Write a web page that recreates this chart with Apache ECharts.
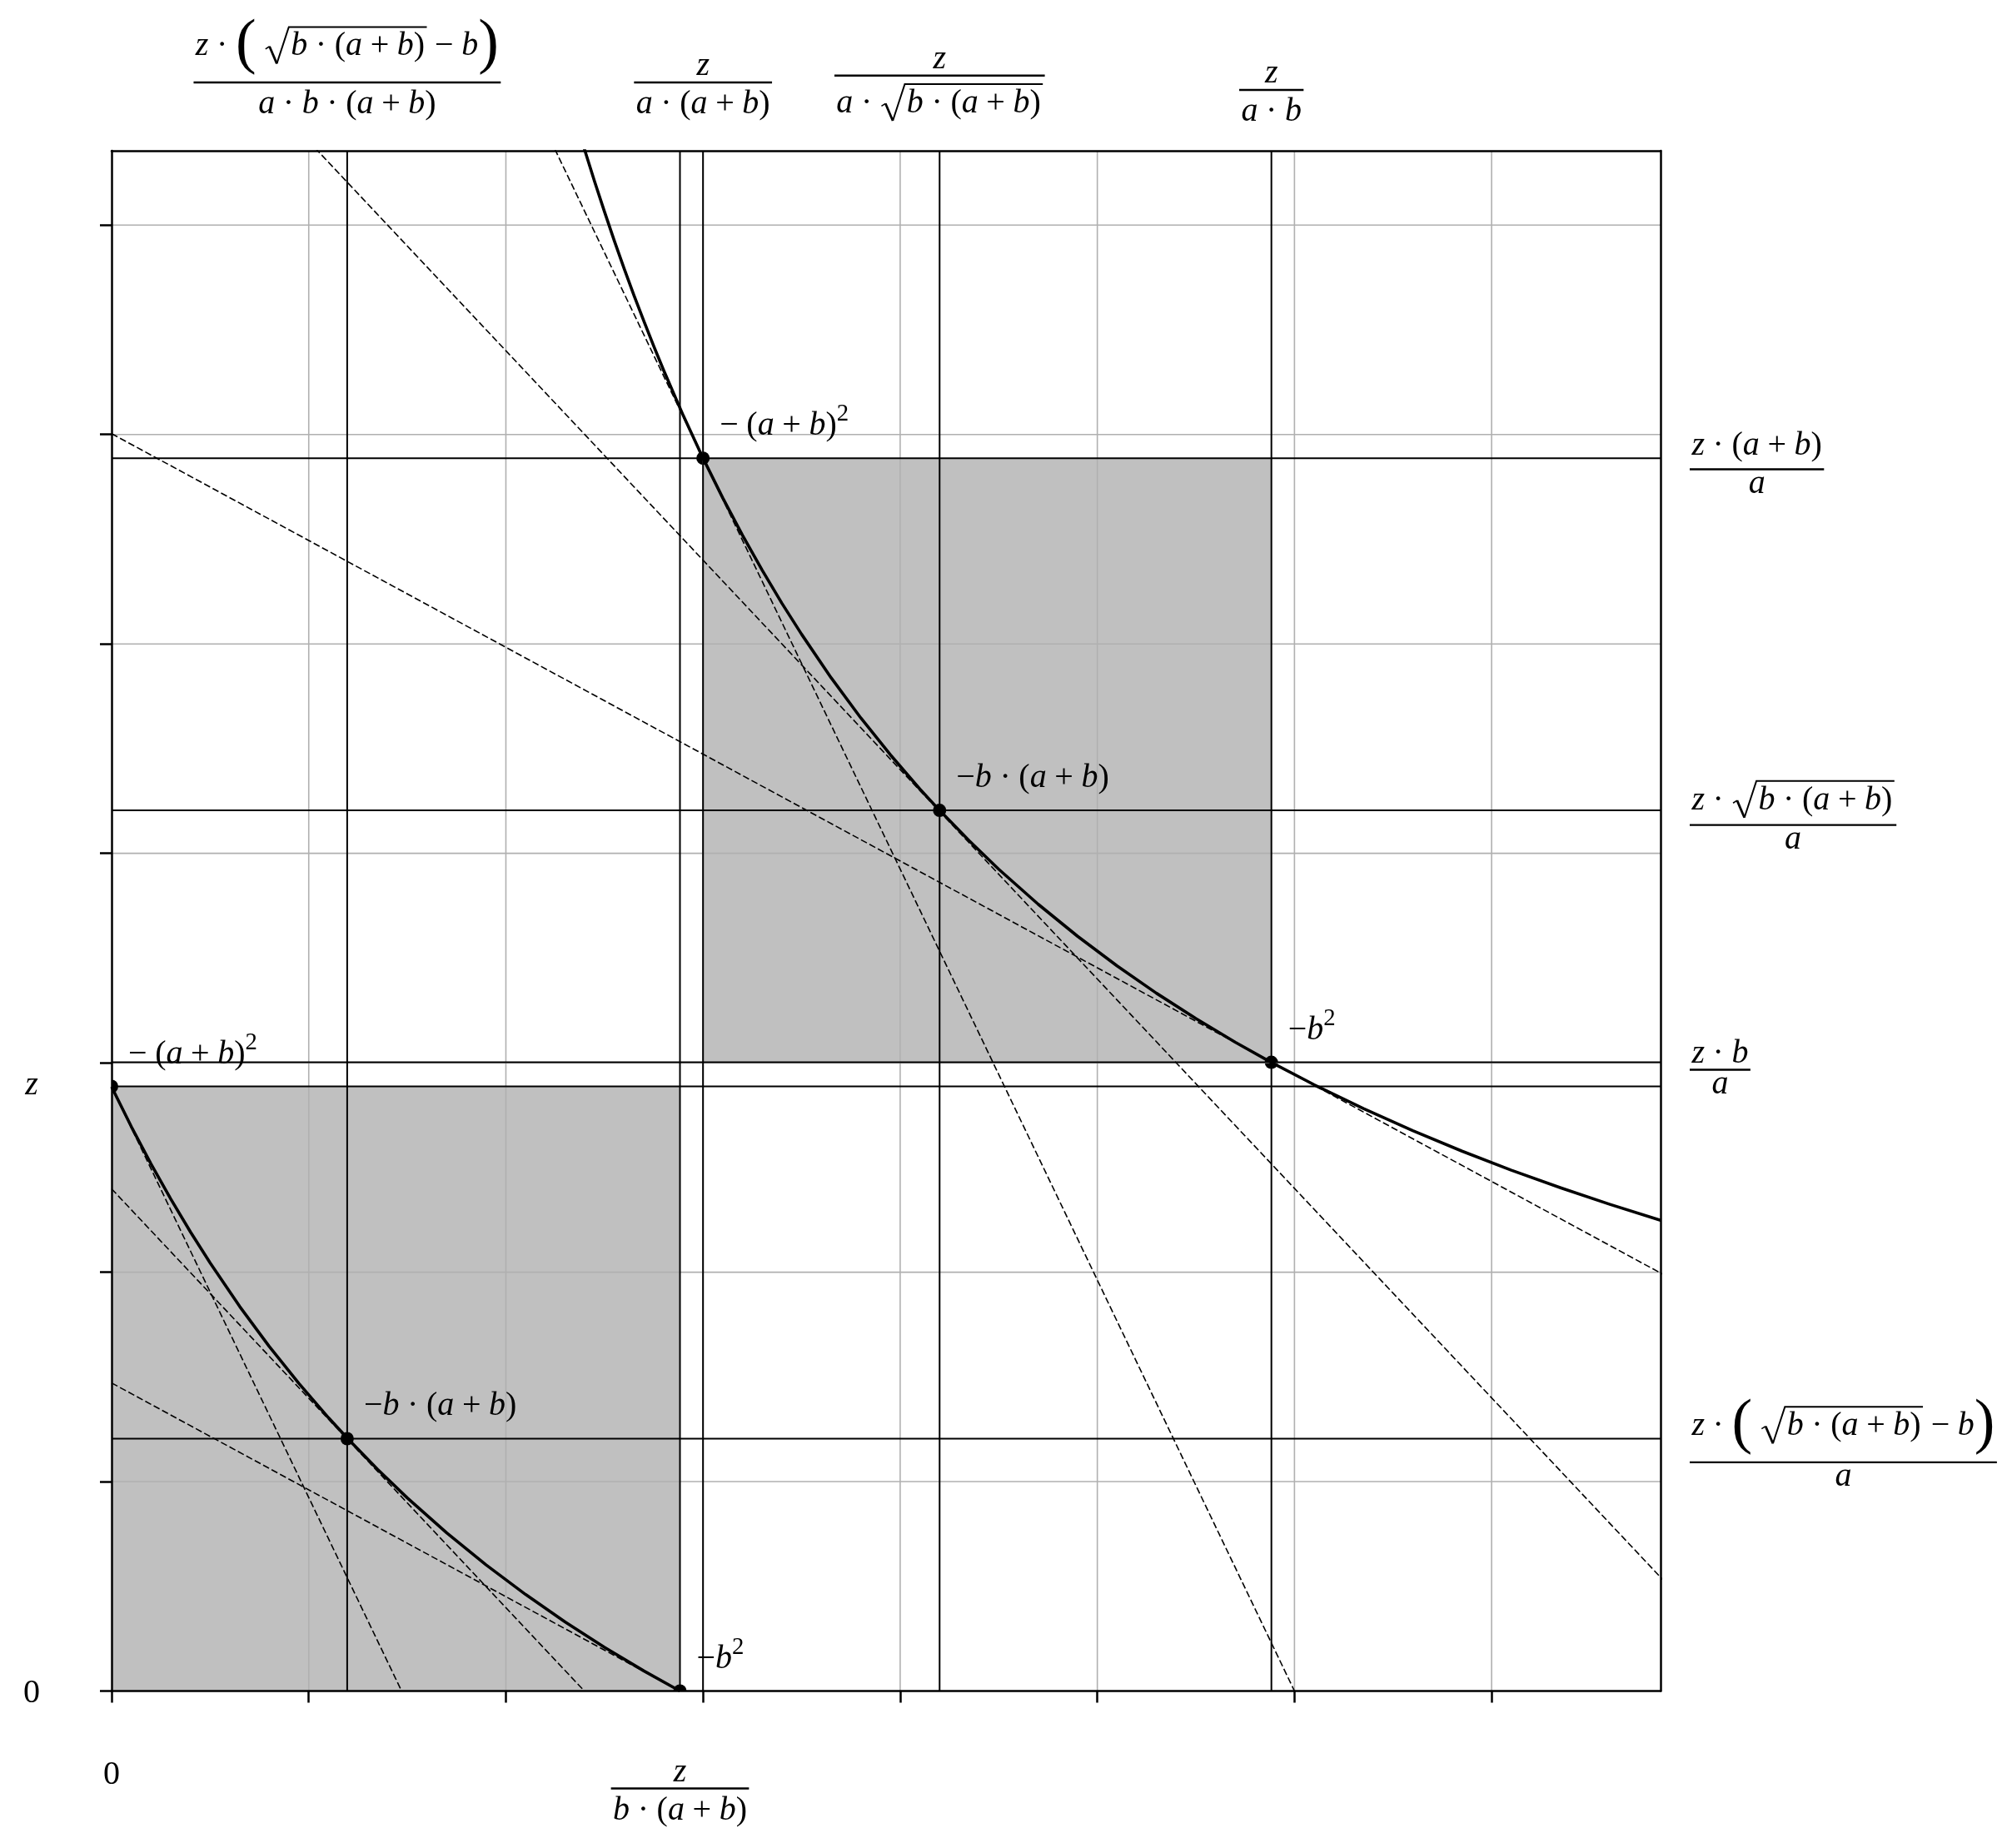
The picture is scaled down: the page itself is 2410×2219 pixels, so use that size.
<!DOCTYPE html>
<html><head><meta charset="utf-8">
<script src="https://cdn.jsdelivr.net/npm/echarts@6/dist/echarts.min.js"></script>
<style>html,body{margin:0;padding:0;background:#fff}#c{width:2410px;height:2219px}</style>
</head><body><div id="c"></div>
<script>
// ---------------- data ----------------
const X_MAX = 7.857;
const Y_MAX = 7.355;
const TICKS = [0, 1, 2, 3, 4, 5, 6, 7];
const GRID_X = [1, 2, 3, 4, 5, 6, 7];
const GRID_Y = [1, 2, 3, 4, 5, 6, 7];
const VLINES = [1.195, 2.883, 3.0, 4.2, 5.883];
const HLINES = [1.205, 2.887, 3.002, 4.205, 5.887];
const RECTS = [[3.0, 3.002, 5.883, 5.887], [0, 0, 2.883, 2.887]];
const UPPER_CURVE = [[2.30,7.678],[2.35,7.515],[2.40,7.358],[2.45,7.208],[2.50,7.064],[2.55,6.925],[2.60,6.792],[2.65,6.664],[2.70,6.541],[2.75,6.422],[2.80,6.307],[2.90,6.090],[3.00,5.887],[3.10,5.697],[3.20,5.519],[3.30,5.352],[3.40,5.194],[3.50,5.046],[3.65,4.838],[3.80,4.647],[3.95,4.471],[4.10,4.307],[4.20,4.205],[4.35,4.060],[4.50,3.924],[4.70,3.757],[4.90,3.604],[5.10,3.463],[5.30,3.332],[5.50,3.211],[5.70,3.098],[5.88,3.003],[6.10,2.895],[6.35,2.781],[6.60,2.676],[6.85,2.578],[7.10,2.487],[7.35,2.403],[7.60,2.324],[7.86,2.247]];
const LOWER_CURVE = [[0,2.885],[0.10,2.695],[0.20,2.517],[0.30,2.350],[0.40,2.192],[0.50,2.044],[0.65,1.836],[0.80,1.645],[0.95,1.469],[1.10,1.305],[1.20,1.203],[1.35,1.058],[1.50,0.922],[1.70,0.755],[1.90,0.602],[2.10,0.461],[2.30,0.330],[2.50,0.209],[2.70,0.096],[2.883,0]];
const TANGENTS_UPPER = [[[0,11.775],[6.0,0]], [[0,8.4],[8.4,0]], [[0,6.004],[11.77,0]]];
const TANGENTS_LOWER = [[[0,2.886],[1.471,0]], [[0,2.398],[2.398,0]], [[0,1.471],[2.883,0]]];
const POINTS = [[3.0,5.887],[4.2,4.205],[5.883,3.002],[0,2.887],[1.195,1.205],[2.883,0]];
const POINT_LABELS = ['− (a+b)^2', '−b·(a+b)', '−b^2', '− (a+b)^2', '−b·(a+b)', '−b^2'];
const TOP_LABELS = [
  {x: 1.195, num: 'z·[ √{b·(a+b)}−b]', den: 'a·b·(a+b)'},
  {x: 3.0, num: 'z', den: 'a·(a+b)'},
  {x: 4.2, num: 'z', den: 'a·√{b·(a+b)}'},
  {x: 5.883, num: 'z', den: 'a·b'}
];
const RIGHT_LABELS = [
  {y: 5.887, num: 'z·(a+b)', den: 'a'},
  {y: 4.205, num: 'z·√{b·(a+b)}', den: 'a'},
  {y: 3.002, num: 'z·b', den: 'a'},
  {y: 1.205, num: 'z·[ √{b·(a+b)}−b]', den: 'a'}
];
const BOTTOM_LABELS = [{x: 0, text: '0'}, {x: 2.883, num: 'z', den: 'b·(a+b)'}];
const LEFT_LABELS = [{y: 0, text: '0'}, {y: 2.887, text: 'z'}];

// ---------------- chart ----------------
const chart = echarts.init(document.getElementById('c'), null, {renderer: 'canvas'});

function seg(data, color, width, type) {
  return {type: 'line', data: data, symbol: 'none', silent: true, clip: true,
    lineStyle: {color: color, width: width, type: type || 'solid', join: 'round'}};
}
const series = [];
series.push({
  type: 'custom', clip: true, silent: true, data: RECTS,
  dimensions: ['x1', 'y1', 'x2', 'y2'], encode: {x: ['x1', 'x2'], y: ['y1', 'y2']},
  renderItem: function (p, api) {
    const a = api.coord([api.value(0), api.value(1)]);
    const b = api.coord([api.value(2), api.value(3)]);
    return {type: 'rect', shape: {x: Math.min(a[0], b[0]), y: Math.min(a[1], b[1]),
      width: Math.abs(b[0] - a[0]), height: Math.abs(b[1] - a[1])}, style: {fill: '#c0c0c0'}};
  }
});
GRID_X.forEach(x => series.push(seg([[x, 0], [x, Y_MAX]], '#b0b0b0', 1.6)));
GRID_Y.forEach(y => series.push(seg([[0, y], [X_MAX, y]], '#b0b0b0', 1.6)));
VLINES.forEach(x => series.push(seg([[x, 0], [x, Y_MAX]], '#000', 2)));
HLINES.forEach(y => series.push(seg([[0, y], [X_MAX, y]], '#000', 2)));
TANGENTS_UPPER.concat(TANGENTS_LOWER).forEach(l => series.push(seg(l, '#000', 1.6, [8, 3.5])));
[UPPER_CURVE, LOWER_CURVE].forEach(c => series.push(seg(c, '#000', 3.6)));
series.push({
  type: 'custom', clip: true, silent: true, data: POINTS,
  renderItem: function (p, api) {
    const c = api.coord([api.value(0), api.value(1)]);
    return {type: 'circle', shape: {cx: c[0], cy: c[1], r: 8}, style: {fill: '#000'}};
  }
});

const axisBase = {type: 'value', min: 0, z: 10, axisLabel: {show: false}, splitLine: {show: false},
  axisLine: {show: true, onZero: false, lineStyle: {color: '#000', width: 2.5}}};
const tickStyle = {show: true, inside: false, length: 14, lineStyle: {color: '#000', width: 2.5}, customValues: TICKS};

chart.setOption({
  animation: false,
  backgroundColor: '#fff',
  grid: {left: 134, right: 416, top: 181, bottom: 188.5},
  xAxis: [
    Object.assign({}, axisBase, {max: X_MAX, interval: 1, position: 'bottom', axisTick: tickStyle}),
    Object.assign({}, axisBase, {max: X_MAX, interval: 1, position: 'top', axisTick: {show: false}})
  ],
  yAxis: [
    Object.assign({}, axisBase, {max: Y_MAX, interval: 1, position: 'left', axisTick: tickStyle}),
    Object.assign({}, axisBase, {max: Y_MAX, interval: 1, position: 'right', axisTick: {show: false}})
  ],
  series: series
});

// ---------------- tiny math-text layout ----------------
const S = 40;
const OPS = 0.24;
const cv = document.createElement('canvas').getContext('2d');
function fnt(it, s) { return (it ? 'italic ' : '') + s.toFixed(2) + 'px "Liberation Serif"'; }
function metrics(str, it, s) {
  cv.font = fnt(it, s); cv.textBaseline = 'alphabetic';
  const m = cv.measureText(str);
  cv.textBaseline = 'middle';
  const mm = cv.measureText('H');
  cv.textBaseline = 'alphabetic';
  return {w: m.width, a: m.actualBoundingBoxAscent, d: m.actualBoundingBoxDescent, off: mm.actualBoundingBoxDescent};
}
function tok(str, it, s, dy) {
  dy = dy || 0; const m = metrics(str, it, s);
  return {w: m.w, asc: m.a + dy, desc: m.d - dy, draw: function (x, yb, out) {
    out.push({type: 'text', z: 50, silent: true, style: {text: str, x: x, y: yb - dy - m.off, font: fnt(it, s),
      fill: '#000', align: 'left', verticalAlign: 'middle', textAlign: 'left', textVerticalAlign: 'middle'}});
  }};
}
function gap(w) { return {w: w, asc: 0, desc: 0, draw: function () {}}; }
function hbox(items) {
  let w = 0, asc = 0, desc = 0;
  items.forEach(b => { w += b.w; asc = Math.max(asc, b.asc); desc = Math.max(desc, b.desc); });
  return {w: w, asc: asc, desc: desc, draw: function (x, yb, out) {
    let cx = x; items.forEach(b => { b.draw(cx, yb, out); cx += b.w; });
  }};
}
function bigParen(ch, s) {
  const s2 = 1.85 * s; const m = metrics(ch, false, s2);
  const center = (m.a - m.d) / 2;
  return tok(ch, false, s2, 0.25 * s - center);
}
function supTok(ch, s) { return tok(ch, false, 0.72 * s, 0.42 * s); }
function poly(pts, lw) {
  return {type: 'polyline', z: 50, silent: true, shape: {points: pts},
    style: {stroke: '#000', lineWidth: lw, fill: null, lineJoin: 'miter', lineCap: 'butt'}};
}
function sqrtBox(c, s) {
  const g = 0.12 * s, th = 2.2, signW = 0.8 * s, extra = 0.06 * s;
  const botD = Math.max(c.desc, 0.22 * s) + 0.03 * s;
  return {w: signW + c.w + extra, asc: c.asc + g + th, desc: botD, draw: function (x, yb, out) {
    const yTop = yb - c.asc - g, yBot = yb + botD, h = yBot - yTop;
    const p0 = [x + 0.04 * s, yTop + 0.60 * h], p1 = [x + 0.16 * s, yTop + 0.53 * h],
      p2 = [x + 0.38 * s, yBot], p3 = [x + 0.74 * s, yTop], p4 = [x + signW + c.w + extra, yTop];
    out.push(poly([p0, p1], 1.6), poly([p1, p2], 2.8), poly([p2, p3, p4], 2.0));
    c.draw(x + signW, yb, out);
  }};
}
function fracBox(num, den, s) {
  const pad = 0.06 * s, gN = 0.22 * s, gD = 0.2 * s, th = 2.4, ax = 0.25 * s;
  const w = Math.max(num.w, den.w) + 2 * pad;
  return {w: w, asc: ax + gN + num.desc + num.asc, desc: -ax + gD + den.asc + den.desc, ax: ax,
    draw: function (x, yb, out) {
      const by = yb - ax;
      out.push({type: 'rect', z: 50, silent: true, shape: {x: x, y: by - th / 2, width: w, height: th}, style: {fill: '#000'}});
      num.draw(x + (w - num.w) / 2, by - gN - num.desc, out);
      den.draw(x + (w - den.w) / 2, by + gD + den.asc, out);
    }};
}
function parse(str, s) {
  let i = 0;
  function grp() {
    const items = [];
    while (i < str.length) {
      const c = str[i++];
      if (c === '}') break;
      if (c === '√') { i++; items.push(sqrtBox(grp(), s)); }
      else if (c === '^') { items.push(supTok(str[i++], s)); }
      else if (c === '[') { items.push(bigParen('(', s)); }
      else if (c === ']') { items.push(bigParen(')', s)); }
      else if (c === ' ') { items.push(gap(OPS * s)); }
      else if ('·+−'.indexOf(c) >= 0) {
        if (items.length === 0) items.push(tok(c, false, s));
        else items.push(gap(OPS * s), tok(c, false, s), gap(OPS * s));
      }
      else if (/[a-z]/.test(c)) { items.push(tok(c, true, s)); }
      else { items.push(tok(c, false, s)); }
    }
    return hbox(items);
  }
  return grp();
}
function build(L) { return L.num ? fracBox(parse(L.num, S), parse(L.den, S), S) : parse(L.text, S); }

// ---------------- place labels with the chart's own scales ----------------
function toPx(v) { return chart.convertToPixel({xAxisIndex: 0, yAxisIndex: 0}, v); }
const tl = toPx([0, Y_MAX]), br = toPx([X_MAX, 0]);
const plotLeft = tl[0], plotTop = tl[1], plotRight = br[0], plotBottom = br[1];
const els = [];
TOP_LABELS.forEach(L => {
  const b = build(L); const px = toPx([L.x, 0])[0];
  b.draw(px - b.w / 2, plotTop - 36 - b.desc, els);
});
RIGHT_LABELS.forEach(L => {
  const b = build(L); const cy = toPx([0, L.y])[1] + 4;
  b.draw(plotRight + 35, cy + (b.asc - b.desc) / 2, els);
});
BOTTOM_LABELS.forEach(L => {
  const b = build(L); const px = toPx([L.x, 0])[0];
  if (L.num) b.draw(px - b.w / 2, plotBottom + 117 + b.ax, els);
  else b.draw(px - b.w / 2, plotBottom + 98 + (b.asc - b.desc) / 2, els);
});
LEFT_LABELS.forEach(L => {
  const b = build(L); const py = toPx([0, L.y])[1];
  b.draw(plotLeft - 96 - b.w / 2, py + (b.asc - b.desc) / 2, els);
});
POINTS.forEach((p, k) => {
  const b = parse(POINT_LABELS[k], S); const q = toPx(p);
  b.draw(q[0] + 20, q[1] - 28, els);
});
chart.setOption({graphic: {elements: els}});
</script></body></html>
